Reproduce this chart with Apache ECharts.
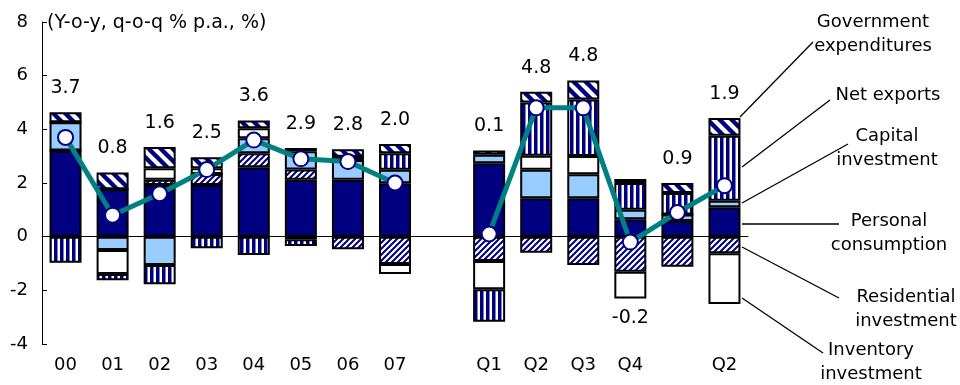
<!DOCTYPE html>
<html>
<head>
<meta charset="utf-8">
<script src="https://cdn.jsdelivr.net/npm/echarts@6/dist/echarts.min.js"></script>
<style>
  html, body { margin: 0; padding: 0; background: #fff; }
  #chart { width: 960px; height: 385px; }
</style>
</head>
<body>
<div id="chart"></div>
<script>
// categories: years 2000-2007, then quarters
const categories = ['00', '01', '02', '03', '04', '05', '06', '07', '', 'Q1', 'Q2', 'Q3', 'Q4', '', 'Q2'];

// contributions to growth (% points)
const personal    = [3.21, 1.77, 1.93, 1.93, 2.59, 2.12, 2.12, 1.99, null, 2.74, 1.43, 1.43, 0.65, 0.58, 1.10];
const residential = [0, 0, 0.19, 0.41, 0.52, 0.38, -0.47, -1.02, null, -0.91, -0.60, -1.06, -1.31, -1.12, -0.62];
const capital     = [1.05, -0.50, -1.06, 0, 0.56, 0.68, 0.74, 0.50, null, 0.31, 1.06, 0.90, 0.35, 0.25, 0.24];
const inventory   = [0, -0.89, 0.43, 0.21, 0.37, -0.10, 0.12, -0.37, null, -1.05, 0.53, 0.68, -0.99, 0, -1.89];
const netExports  = [-0.97, -0.23, -0.71, -0.43, -0.68, -0.25, 0, 0.62, null, -1.21, 1.98, 2.10, 1.00, 0.80, 2.42];
const government  = [0.38, 0.62, 0.79, 0.41, 0.29, 0.12, 0.28, 0.34, null, 0.16, 0.40, 0.71, 0.15, 0.37, 0.66];

// real GDP growth (line)
const gdpGrowth = [3.7, 0.8, 1.6, 2.5, 3.6, 2.9, 2.8, 2.0, null, 0.1, 4.8, 4.8, -0.2, 0.9, 1.9];

const NAVY = '#000080';
const LIGHT = '#99CCFF';
const TEAL = '#008080';
const FONT = 'DejaVu Sans';

// hatch patterns
function makePattern(size, draw) {
  const c = document.createElement('canvas');
  c.width = size; c.height = size;
  const ctx = c.getContext('2d');
  ctx.fillStyle = '#fff';
  ctx.fillRect(0, 0, size, size);
  ctx.strokeStyle = NAVY;
  ctx.fillStyle = NAVY;
  draw(ctx, size);
  return c;
}
// fine "/" hatch
const fineHatch = makePattern(6, (ctx, s) => {
  ctx.lineWidth = 2;
  ctx.beginPath();
  ctx.moveTo(-1, s + 1); ctx.lineTo(s + 1, -1);
  ctx.moveTo(-1, 1); ctx.lineTo(1, -1);
  ctx.moveTo(s - 1, s + 1); ctx.lineTo(s + 1, s - 1);
  ctx.stroke();
});
// coarse "\" hatch
const coarseHatch = makePattern(12, (ctx, s) => {
  ctx.lineWidth = 4.4;
  ctx.beginPath();
  ctx.moveTo(-2, -2); ctx.lineTo(s + 2, s + 2);
  ctx.moveTo(-2, s - 2); ctx.lineTo(2, s + 2);
  ctx.moveTo(s - 2, -2); ctx.lineTo(s + 2, 2);
  ctx.stroke();
});
// vertical stripes
const vStripes = makePattern(6, (ctx, s) => {
  ctx.fillRect(0, 0, 3.5, s);
});

const pat = img => ({ image: img, repeat: 'repeat' });

const components = [
  { name: 'Personal consumption', data: personal, color: NAVY },
  { name: 'Residential investment', data: residential, color: pat(fineHatch) },
  { name: 'Capital investment', data: capital, color: LIGHT },
  { name: 'Inventory investment', data: inventory, color: '#fff' },
  { name: 'Net exports', data: netExports, color: pat(vStripes) },
  { name: 'Government expenditures', data: government, color: pat(coarseHatch) }
];

// stack totals used to place the value labels
const posTotal = categories.map((c, i) =>
  components.reduce((s, k) => s + (k.data[i] > 0 ? k.data[i] : 0), 0));
const negTotal = categories.map((c, i) =>
  components.reduce((s, k) => s + (k.data[i] < 0 ? k.data[i] : 0), 0));

const labelData = gdpGrowth.map((g, i) => {
  if (g == null) return null;
  const below = g < 0;
  return {
    value: [i, below ? negTotal[i] : posTotal[i], g],
    label: { position: below ? 'bottom' : 'top', distance: below ? 10 : 14 }
  };
});

const barSeries = components.map(k => ({
  name: k.name,
  type: 'bar',
  stack: 'gdp',
  barWidth: 32,
  data: k.data,
  itemStyle: { color: k.color, borderColor: '#000', borderWidth: 2 }
}));

const chart = echarts.init(document.getElementById('chart'));

const textStyle = { fontFamily: FONT, fontSize: 18, fill: '#000' };
const note = (x, y, text) => ({
  type: 'text', x: x, y: y,
  style: Object.assign({ text: text, align: 'center', verticalAlign: 'middle', lineHeight: 24 }, textStyle)
});
const leader = (x1, y1, x2, y2) => ({
  type: 'line', shape: { x1: x1, y1: y1, x2: x2, y2: y2 },
  style: { stroke: '#000', lineWidth: 1.3 }
});

chart.setOption({
  animation: false,
  textStyle: { fontFamily: FONT },
  grid: [
    { left: 42, right: 212, top: 22, bottom: 41 },
    { left: 42, right: 212, top: 22, bottom: 41 }
  ],
  xAxis: [
    {
      type: 'category', gridIndex: 0, data: categories,
      axisLine: { show: false, onZero: false },
      axisTick: { show: false },
      axisLabel: { interval: 0, fontSize: 18, color: '#000', margin: 12, fontFamily: FONT }
    },
    {
      type: 'category', gridIndex: 1, data: categories,
      axisLine: { onZero: true, lineStyle: { color: '#000', width: 1 } },
      axisTick: { inside: true, length: 5, interval: 0, lineStyle: { color: '#000' } },
      axisLabel: { show: false }
    }
  ],
  yAxis: [
    {
      type: 'value', gridIndex: 0, min: -4, max: 8, interval: 2,
      axisLine: { show: true, lineStyle: { color: '#000', width: 1 } },
      axisTick: { show: true, inside: true, length: 5, lineStyle: { color: '#000' } },
      axisLabel: { fontSize: 18, color: '#000', margin: 14, fontFamily: FONT },
      splitLine: { show: false }
    },
    { type: 'value', gridIndex: 1, min: -4, max: 8, interval: 2, show: false }
  ],
  series: barSeries.concat([
    {
      name: 'Real GDP',
      type: 'line',
      data: gdpGrowth,
      connectNulls: false,
      symbol: 'circle',
      symbolSize: 15,
      showAllSymbol: true,
      lineStyle: { color: TEAL, width: 5 },
      itemStyle: { color: '#fff', borderColor: NAVY, borderWidth: 2 },
      z: 5
    },
    {
      name: 'labels',
      type: 'scatter',
      data: labelData,
      symbolSize: 1,
      itemStyle: { color: 'rgba(0,0,0,0)', opacity: 1 },
      label: {
        show: true, fontSize: 19, color: '#000', fontFamily: FONT,
        formatter: p => p.value[2].toFixed(1)
      },
      z: 6
    }
  ]),
  graphic: [
    {
      type: 'text', left: 47, top: 14,
      style: Object.assign({}, textStyle, { text: '(Y-o-y, q-o-q % p.a., %)', fontSize: 19 })
    },
    leader(740, 117, 813, 42),
    leader(742, 167, 830, 100),
    leader(742, 203, 848, 144),
    leader(742, 224, 839, 224),
    leader(742, 247, 839, 298),
    leader(742, 298, 823, 353),
    note(873, 34, 'Government\nexpenditures'),
    note(888, 95, 'Net exports'),
    note(887, 148, 'Capital\ninvestment'),
    note(889, 233, 'Personal\nconsumption'),
    note(906, 309, 'Residential\ninvestment'),
    note(871, 362, 'Inventory\ninvestment')
  ]
});
</script>
</body>
</html>
